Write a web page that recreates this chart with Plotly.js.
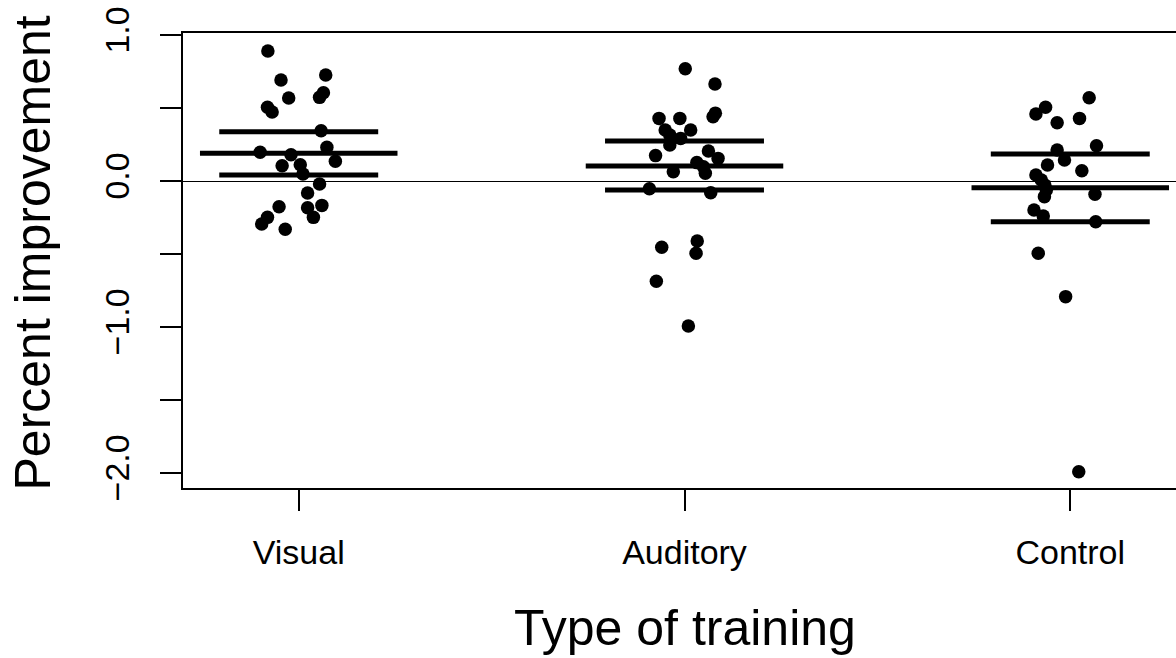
<!DOCTYPE html>
<html>
<head>
<meta charset="utf-8">
<script src="https://cdn.plot.ly/plotly-3.0.1.min.js"></script>
<style>
  html, body { margin: 0; padding: 0; overflow: hidden; background: #fff; }
  #chart { width: 1200px; height: 658px; }
</style>
</head>
<body>
<div id="chart"></div>
<script>
// Categories
const categories = ["Visual", "Auditory", "Control"];

// Individual observations (percent improvement) per group
const visualValues = [0.890, 0.692, 0.726, 0.568, 0.605, 0.573, 0.505, 0.473, 0.345, 0.197, 0.180, 0.231, 0.135, 0.105, 0.112, 0.048, -0.021, -0.082, -0.176, -0.183, -0.167, -0.249, -0.249, -0.295, -0.331];
const auditoryValues = [0.769, 0.664, 0.465, 0.440, 0.429, 0.429, 0.349, 0.349, 0.315, 0.292, 0.247, 0.174, 0.205, 0.155, 0.126, 0.098, 0.064, 0.053, -0.053, -0.080, -0.411, -0.454, -0.495, -0.687, -0.993];
const controlValues = [0.571, 0.505, 0.459, 0.429, 0.399, 0.242, 0.212, 0.144, 0.110, 0.071, 0.041, 0.007, -0.027, -0.062, -0.091, -0.107, -0.199, -0.240, -0.279, -0.495, -0.792, -1.991];

// Horizontal jitter of each observation (stripchart jitter, in category units)
const visualJitter = [-0.080, -0.046, 0.070, -0.026, 0.064, 0.054, -0.081, -0.069, 0.058, -0.100, -0.020, 0.073, 0.095, -0.043, 0.004, 0.011, 0.054, 0.023, -0.051, 0.023, 0.060, 0.038, -0.081, -0.096, -0.035];
const auditoryJitter = [0.002, 0.079, 0.080, 0.074, -0.066, -0.012, -0.050, 0.016, -0.038, -0.010, -0.038, -0.075, 0.062, 0.087, 0.032, 0.049, -0.029, 0.054, -0.091, 0.068, 0.033, -0.059, 0.030, -0.073, 0.010];
const controlJitter = [0.049, -0.064, -0.089, 0.024, -0.034, 0.068, -0.034, -0.015, -0.059, 0.030, -0.089, -0.075, -0.066, -0.062, 0.064, -0.067, -0.094, -0.070, 0.066, -0.083, -0.012, 0.022];

// Group means and confidence limits
const groupMeans = [0.190, 0.103, -0.046];
const upperLimits = [0.338, 0.274, 0.185];
const lowerLimits = [0.041, -0.062, -0.279];

// Y tick labels
const yTickValues = [1.0, 0.5, 0.0, -0.5, -1.0, -1.5, -2.0];
const yTickLabels = ["1.0", "", "0.0", "", "\u22121.0", "", "\u22122.0"];

const groupValues = [visualValues, auditoryValues, controlValues];
const groupJitter = [visualJitter, auditoryJitter, controlJitter];

const traces = [];
// points
groupValues.forEach((vals, gi) => {
  traces.push({
    type: "scatter",
    mode: "markers",
    x: vals.map((v, i) => gi + 1 + groupJitter[gi][i]),
    y: vals,
    marker: { color: "#000", size: 13.5, line: { width: 0 } },
    hoverinfo: "y",
    showlegend: false
  });
});

// mean and CI segments
const meanHalf = 0.256, ciHalf = 0.206;
const segX = [], segY = [];
categories.forEach((c, gi) => {
  const cx = gi + 1;
  segX.push(cx - meanHalf, cx + meanHalf, null);
  segY.push(groupMeans[gi], groupMeans[gi], null);
  segX.push(cx - ciHalf, cx + ciHalf, null);
  segY.push(upperLimits[gi], upperLimits[gi], null);
  segX.push(cx - ciHalf, cx + ciHalf, null);
  segY.push(lowerLimits[gi], lowerLimits[gi], null);
});
traces.push({
  type: "scatter",
  mode: "lines",
  x: segX,
  y: segY,
  line: { color: "#000", width: 5 },
  hoverinfo: "skip",
  showlegend: false
});

const font = "Liberation Sans, Arial, Helvetica, sans-serif";

const layout = {
  width: 1200,
  height: 658,
  margin: { l: 183, r: 14, t: 33, b: 170 },
  paper_bgcolor: "#fff",
  plot_bgcolor: "#fff",
  font: { family: font, color: "#000" },
  showlegend: false,
  xaxis: {
    range: [0.7, 3.3],
    tickvals: [1, 2, 3],
    ticktext: categories,
    ticks: "outside",
    ticklen: 21,
    tickwidth: 2,
    tickcolor: "#000",
    tickfont: { family: font, size: 34, color: "#000" },
    ticklabelstandoff: 12,
    showline: true,
    linewidth: 2,
    linecolor: "#000",
    mirror: true,
    showgrid: false,
    zeroline: false,
    fixedrange: true
  },
  yaxis: {
    range: [-2.103, 1.014],
    tickvals: yTickValues,
    ticktext: yTickLabels,
    tickangle: -90,
    ticks: "outside",
    ticklen: 21,
    tickwidth: 2,
    tickcolor: "#000",
    tickfont: { family: font, size: 34, color: "#000" },
    ticklabelstandoff: 17,
    showline: true,
    linewidth: 2,
    linecolor: "#000",
    mirror: true,
    showgrid: false,
    zeroline: true,
    zerolinecolor: "#000",
    zerolinewidth: 1,
    fixedrange: true
  },
  annotations: [
    {
      text: "Type of training",
      xref: "paper", yref: "paper",
      x: 0.5, y: 0,
      xanchor: "center", yanchor: "middle",
      yshift: -140,
      showarrow: false,
      font: { family: font, size: 50, color: "#000" }
    },
    {
      text: "Percent improvement",
      xref: "paper", yref: "paper",
      x: 0, y: 0.5,
      xanchor: "center", yanchor: "middle",
      xshift: -151, yshift: 7,
      textangle: -90,
      showarrow: false,
      font: { family: font, size: 50, color: "#000" }
    }
  ]
};

Plotly.newPlot("chart", traces, layout, { displayModeBar: false, staticPlot: true });
</script>
</body>
</html>
